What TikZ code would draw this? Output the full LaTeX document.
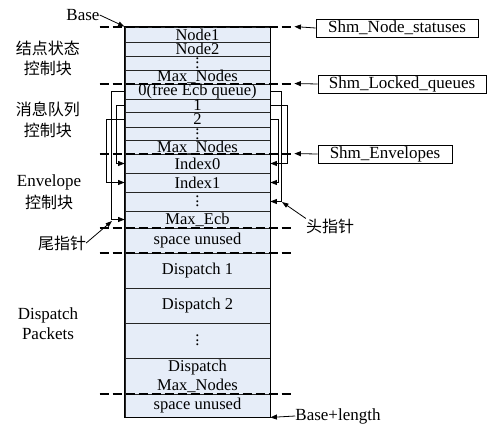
\documentclass[tikz,border=0pt]{standalone}
\usepackage{fontspec}
\setmainfont{Liberation Serif}
\newfontfamily\cjk{Noto Sans CJK SC}
\usetikzlibrary{arrows.meta}
\definecolor{cellfill}{RGB}{230,237,248}
\newcommand\vdts{$\vcenter{\baselineskip=4.5pt\lineskiplimit=-10pt\hbox{.}\hbox{.}\hbox{.}}$}
\begin{document}
\begin{tikzpicture}[x=1pt,y=-1pt,
  cell/.style={draw=black!85, line width=0.8pt, fill=cellfill, minimum width=145pt, inner sep=0pt, align=center, font=\fontsize{16.5}{16}\selectfont},
  sep/.style={line width=2pt, dash pattern=on 9pt off 4pt},
  lbl/.style={align=center, inner sep=0pt, font=\fontsize{17}{19.5}\selectfont},
  cjklbl/.style={align=center, inner sep=0pt, font=\cjk\fontsize{16}{20.5}\selectfont},
  tip/.style={-{Triangle[length=6.5pt,width=5pt]}, line width=0.8pt},
  ptr/.style={-{Triangle[length=6.5pt,width=4.5pt]}, line width=0.8pt},
  shm/.style={draw, line width=0.9pt, inner sep=0pt, minimum height=18pt, font=\fontsize{17}{17}\selectfont}]
\useasboundingbox (0,0) rectangle (487,427);
% column rows
\node[cell, minimum height=15pt] (n1) at (197.5,34.5) {Node1};
\node[cell, minimum height=14pt] (n2) at (197.5,49) {Node2};
\node[cell, minimum height=14pt] (nd) at (197.5,63) {\vdts};
\node[cell, minimum height=14pt] (nm) at (197.5,77) {Max\_Nodes};
\node[cell, minimum height=15pt] (q0) at (197.5,91.5) {0(free Ecb queue)};
\node[cell, minimum height=13pt] (q1) at (197.5,105.5) {1};
\node[cell, minimum height=15pt] (q2) at (197.5,119.5) {2};
\node[cell, minimum height=14pt] (qd) at (197.5,134) {\vdts};
\node[cell, minimum height=13pt] (qm) at (197.5,147.5) {Max\_Nodes};
\node[cell, minimum height=19pt] (e0) at (197.5,163.5) {Index0};
\node[cell, minimum height=19pt] (e1) at (197.5,182.5) {Index1};
\node[cell, minimum height=19pt] (ed) at (197.5,201.5) {\vdts};
\node[cell, minimum height=17pt] (em) at (197.5,219.5) {Max\_Ecb};
\node[cell, minimum height=25pt] (u1) at (197.5,240.5) {space unused};
\node[cell, minimum height=35pt] (d1) at (197.5,270.5) {Dispatch 1};
\node[cell, minimum height=35pt] (d2) at (197.5,305.5) {Dispatch 2};
\node[cell, minimum height=35pt] (dd) at (197.5,340.5) {\vdts};
\node[cell, minimum height=36pt, font=\fontsize{16.5}{19}\selectfont] (dm) at (197.5,376) {Dispatch\\Max\_Nodes};
\node[cell, minimum height=23pt] (u2) at (197.5,405.5) {space unused};
\draw[line width=1pt] (n1.north west) rectangle (u2.south east);
% dashed separators
\foreach \r in {n1,q0,e0,u1,d1,u2}{
  \coordinate (\r L) at ([xshift=-25pt]\r.north west);
  \coordinate (\r R) at ([xshift=24pt]\r.north east);
  \draw[sep] (\r L) -- (\r R);
}
% right boxes
\node[shm, minimum width=162pt] (s1) at (397,28) {Shm\_Node\_statuses};
\node[shm, minimum width=168pt] (s2) at (402,84) {Shm\_Locked\_queues};
\node[shm, minimum width=134pt] (s3) at (385,154) {Shm\_Envelopes};
\draw[tip] (s1.west) -- (n1R);
\draw[tip] (s2.west) -- (q0R);
\draw[tip] (s3.west) -- (e0R);
% brackets left
\draw[tip] (q0.west) -- ++(-13,0) |- (em.west);
\draw[tip] (q1.west) -- ++(-8,0) |- (e0.west);
\draw[tip] (q2.west) -- ++(-18,0) |- (e1.west);
% brackets right
\draw[tip] (q0.east) -- ++(11,0) |- (ed.east);
\draw[tip] (q1.east) -- ++(17,0) |- (e0.east);
\draw[tip] (q2.east) -- ++(8,0) |- (e1.east);
% labels
\node[lbl] (base) at (83,15) {Base};
\draw[ptr] (base.east) -- (n1.north west);
\node[lbl] (bl) at (338,416) {Base+length};
\draw[tip] (bl.west) -- (u2.south east);
\node[cjklbl] (g1) at (48,58.5) {结点状态\\控制块};
\node[cjklbl] (g2) at (48,120) {消息队列\\控制块};
\node[lbl] (g3) at (49,182.5) {Envelope};
\node[cjklbl] (g3b) at (49,202) {控制块};
\node[lbl] (g4) at (48,323.5) {Dispatch\\Packets};
\node[cjklbl] (tail) at (62,243) {尾指针};
\coordinate (tailp) at (112,221);
\draw[ptr] (tail.east) -- (tailp);
\node[cjklbl] (head) at (330,226) {头指针};
\coordinate (headp) at (282,202);
\draw[ptr] (head.north west) -- (headp);
\end{tikzpicture}
\end{document}
